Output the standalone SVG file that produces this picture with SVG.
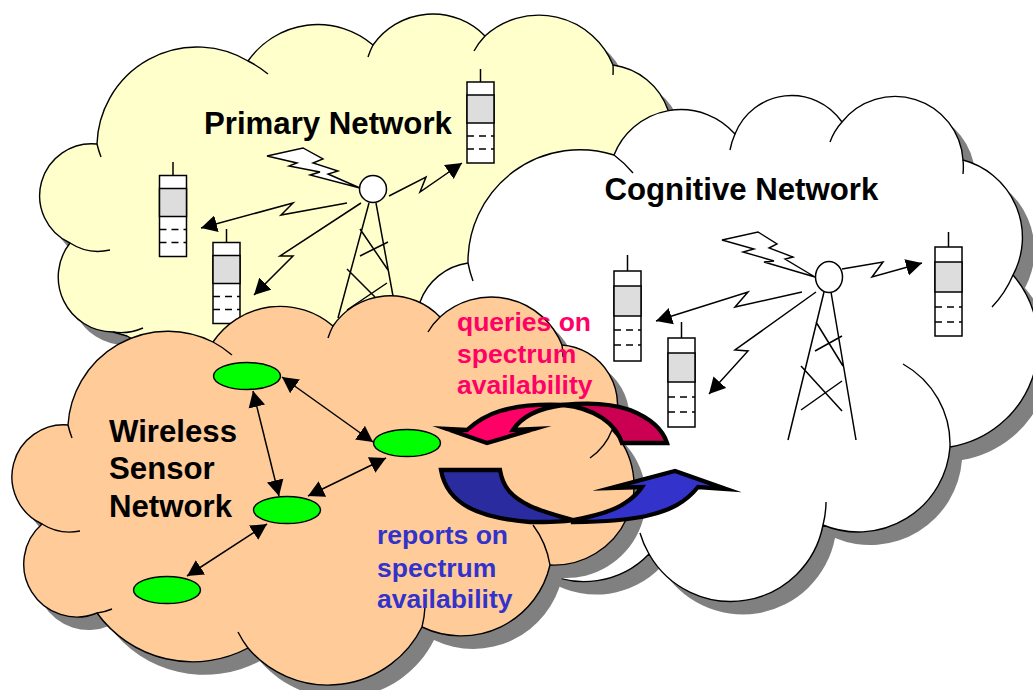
<svg xmlns="http://www.w3.org/2000/svg" xmlns:xlink="http://www.w3.org/1999/xlink" width="1033" height="690" viewBox="0 0 1033 690">
<style>
.ln{fill:none;stroke:#000;stroke-width:1.4}
.cl{stroke:#000;stroke-width:1.4;stroke-linejoin:round}
.sh{fill:#808080}
.tw{fill:none;stroke:#000;stroke-width:1.5}
.bolt{fill:#fff;stroke:#000;stroke-width:1.4;stroke-linejoin:miter}
.cn{fill:none;stroke:#000;stroke-width:1.5;marker-end:url(#ah)}
.dbl{fill:none;stroke:#000;stroke-width:1.5;marker-start:url(#ah);marker-end:url(#ah)}
.ph{fill:#fff;stroke:#000;stroke-width:1.5}
.gr{fill:#ddd;stroke:#000;stroke-width:1.5}
.da{stroke:#000;stroke-width:1.5;stroke-dasharray:7 5;fill:none}
.nd{fill:#0f0;stroke:#000;stroke-width:1.4}
.ar{stroke:#000;stroke-width:4.3;stroke-linejoin:miter;stroke-miterlimit:12}
text{font-family:"Liberation Sans",Arial,sans-serif;font-weight:bold}
.t1{font-size:31.200px;fill:#000}
.t2{font-size:26.500px}
</style>
<defs>
<marker id="ah" markerUnits="userSpaceOnUse" markerWidth="18" markerHeight="18" refX="16" refY="9" orient="auto-start-reverse"><path d="M0,0.500L16,9L0,17.500z" fill="#000"/></marker>
<path id="cy" d="M97,144A100,100 0 0 1 248,61A85,85 0 0 1 373,45A73,73 0 0 1 485,36A80,80 0 0 1 613,65A68,68 0 0 1 668,110A68,68 0 0 1 680,150L600,340L300,340L143,345L127,336L113,332A55,55 0 0 1 70,243A52,52 0 0 1 97,144Z"/>
<path id="cw" d="M468,263A112,112 0 0 1 614,155A72,72 0 0 1 735,134A61,61 0 0 1 842,122A68,68 0 0 1 963,160A80,80 0 0 1 1013,275A105,105 0 0 1 950,447A92,92 0 0 1 823,525A94,94 0 0 1 649,554A90,90 0 0 1 540,570L420,320L420,302A60,60 0 0 1 468,263Z"/>
<path id="co" d="M68,425A100,100 0 0 1 213,342A81,81 0 0 1 333,326A69,69 0 0 1 440,317A76,76 0 0 1 562,345A60,60 0 0 1 612,430A80,80 0 0 1 550,565A91,91 0 0 1 422,627A105,105 0 0 1 248,648A118,118 0 0 1 97,613A53,53 0 0 1 42,524A52,52 0 0 1 68,425Z"/>
</defs>

<g id="primary-cloud">
<use xlink:href="#cy" href="#cy" class="sh" transform="translate(12,13)"/>
<use xlink:href="#cy" href="#cy" class="cl" fill="#FFFFCC"/>
<path class="ln" d="M101,157A100,100 0 0 1 97,144M248,61A100,100 0 0 1 268,74M368,57A85,85 0 0 1 373,45M474,51A73,73 0 0 1 485,36M613,65A80,80 0 0 1 613,75M110,250A52,52 0 0 1 70,243M113,332A55,55 0 0 0 143,328"/>
</g>
<g id="primary-tower">
<path class="tw" d="M369,203L338,318M376,203L393,296M360,229L388,270M360,256L388,242M347,269L375,297M347,310L387,283"/>
<circle cx="373" cy="189" r="13.500" fill="#fff" stroke="#000" stroke-width="1.5"/>
<path class="bolt" d="M267,156L303,148L323,159L313,163L338,171L328,174L360,188L310,175L320,172L289,166L297,163Z"/>
</g>
<g id="primary-phone-1"><path class="tw" d="M480.500,69V82"/><rect class="ph" x="467" y="82" width="27" height="81"/><rect class="gr" x="467" y="95" width="27" height="28"/><path class="da" d="M467,136H494M467,149H494"/></g>
<g id="primary-phone-2"><path class="tw" d="M173,162V175"/><rect class="ph" x="159.500" y="175.500" width="27" height="81"/><rect class="gr" x="159.500" y="188.500" width="27" height="28"/><path class="da" d="M159.500,229.500H186.500M159.500,242.500H186.500"/></g>
<g id="primary-phone-3"><path class="tw" d="M226.500,229V242"/><rect class="ph" x="213" y="242.500" width="27" height="81"/><rect class="gr" x="213" y="255.500" width="27" height="28"/><path class="da" d="M213,296.500H240M213,309.500H240"/></g>

<g id="cognitive-cloud">
<use xlink:href="#cw" href="#cw" class="sh" transform="translate(12,13)"/>
<use xlink:href="#cw" href="#cw" class="cl" fill="#fff"/>
<path class="ln" d="M473,281A112,112 0 0 1 468,263M614,155A112,112 0 0 1 633,173M730,150A72,72 0 0 1 735,134M830,142A61,61 0 0 1 842,122M963,174A68,68 0 0 0 963,160M992,307A105,105 0 0 0 1013,275M903,364A92,92 0 0 1 950,447M826,502A94,94 0 0 1 823,525M640,533A94,94 0 0 0 649,554"/>
</g>
<g id="cognitive-tower">
<path class="tw" d="M824,292L788,440M831,292L856,440M816,322L843,366M815,351L842,336M801,366L842,411M801,410L842,381"/>
<ellipse cx="829" cy="277" rx="13.500" ry="15.500" fill="#fff" stroke="#000" stroke-width="1.5"/>
<path class="bolt" d="M722,240L758,232L777,244L769,248L793,257L785,259L815,277L764,262L774,261L743,252L754,249Z"/>
</g>
<g id="cognitive-phone-1"><path class="tw" d="M627.500,255V271"/><rect class="ph" x="614" y="271" width="27" height="90"/><rect class="gr" x="614" y="286" width="27" height="30"/><path class="da" d="M614,330H641M614,345H641"/></g>
<g id="cognitive-phone-2"><path class="tw" d="M681.500,322V338"/><rect class="ph" x="668" y="338" width="27" height="89"/><rect class="gr" x="668" y="353" width="27" height="29"/><path class="da" d="M668,397H695M668,412H695"/></g>
<g id="cognitive-phone-3"><path class="tw" d="M948.500,232V247"/><rect class="ph" x="935" y="247" width="27" height="89"/><rect class="gr" x="935" y="262" width="27" height="30"/><path class="da" d="M935,307H962M935,322H962"/></g>

<g id="sensor-cloud">
<use xlink:href="#co" href="#co" class="sh" transform="translate(12,13)"/>
<use xlink:href="#co" href="#co" class="cl" fill="#FFCC99"/>
<path class="ln" d="M72,438A100,100 0 0 1 68,425M213,342A100,100 0 0 1 232,355M328,338A81,81 0 0 1 333,326M428,332A69,69 0 0 1 440,317M562,345A76,76 0 0 1 563,357M612,430A60,60 0 0 1 590,458M533,525A91,91 0 0 1 550,565M425,607A105,105 0 0 1 422,627M238,632A105,105 0 0 0 248,648M112,609A53,53 0 0 1 97,613M80,531A52,52 0 0 1 42,524"/>
</g>

<g id="connectors">
<path class="cn" d="M347,203L281,215L293,203L201,228"/>
<path class="cn" d="M361,203L280,256L293,256L254,295"/>
<path class="cn" d="M389,196L426,177L420,192L462,163"/>
<path class="cn" d="M802,292L735,307L748,292L656,321"/>
<path class="cn" d="M816,292L735,350L748,351L709,394"/>
<path class="cn" d="M842,269L883,262L872,277L922,263"/>
<path class="dbl" d="M253,391L279,496"/>
<path class="dbl" d="M282,377L373,442"/>
<path class="dbl" d="M308,496L386,458"/>
<path class="dbl" d="M267,524L187,576"/>
</g>

<g id="sensor-node-1"><ellipse class="nd" cx="247" cy="376" rx="33.500" ry="13.500"/></g>
<g id="sensor-node-2"><ellipse class="nd" cx="287" cy="510" rx="33.500" ry="13.500"/></g>
<g id="sensor-node-3"><ellipse class="nd" cx="167" cy="590" rx="33.500" ry="13.500"/></g>
<g id="sensor-node-4"><ellipse class="nd" cx="407" cy="443" rx="33.500" ry="13.500"/></g>

<g id="query-arrow">
<path class="ar" fill="#CC0052" d="M563,405C590,402 610,403 630,410C650,418 663,430 667,443H622C616,424 595,408 563,405Z"/>
<path class="ar" fill="#FF0066" d="M447,429L467,430C478,420 490,414 500,411C520,405 540,404 563,405C540,408 522,416 513,430L534,429L487,443Z"/>
</g>
<g id="report-arrow">
<path class="ar" fill="#2B2BA0" d="M441,470H500C503,488 512,497 530,506C543,512 558,516 573,520C560,522 545,522 530,522C480,518 447,505 441,470Z"/>
<path class="ar" fill="#3333CC" d="M573,520C590,517 612,512 625,503C633,498 638,493 642,487L611,488L675,471L726,489L698,487C685,503 670,510 650,515C630,520 600,522 573,522Z"/>
</g>

<g id="labels">
<text class="t1" x="204" y="134">Primary Network</text>
<text class="t1" x="604.500" y="200">Cognitive Network</text>
<text class="t1" x="109" y="442">Wireless</text>
<text class="t1" x="109" y="479">Sensor</text>
<text class="t1" x="109" y="517">Network</text>
<text class="t2" x="457" y="331" fill="#FF0066">queries on</text>
<text class="t2" x="457" y="363" fill="#FF0066">spectrum</text>
<text class="t2" x="457" y="394" fill="#FF0066">availability</text>
<text class="t2" x="377" y="544" fill="#3333CC">reports on</text>
<text class="t2" x="377" y="577" fill="#3333CC">spectrum</text>
<text class="t2" x="377" y="608" fill="#3333CC">availability</text>
</g>
</svg>
